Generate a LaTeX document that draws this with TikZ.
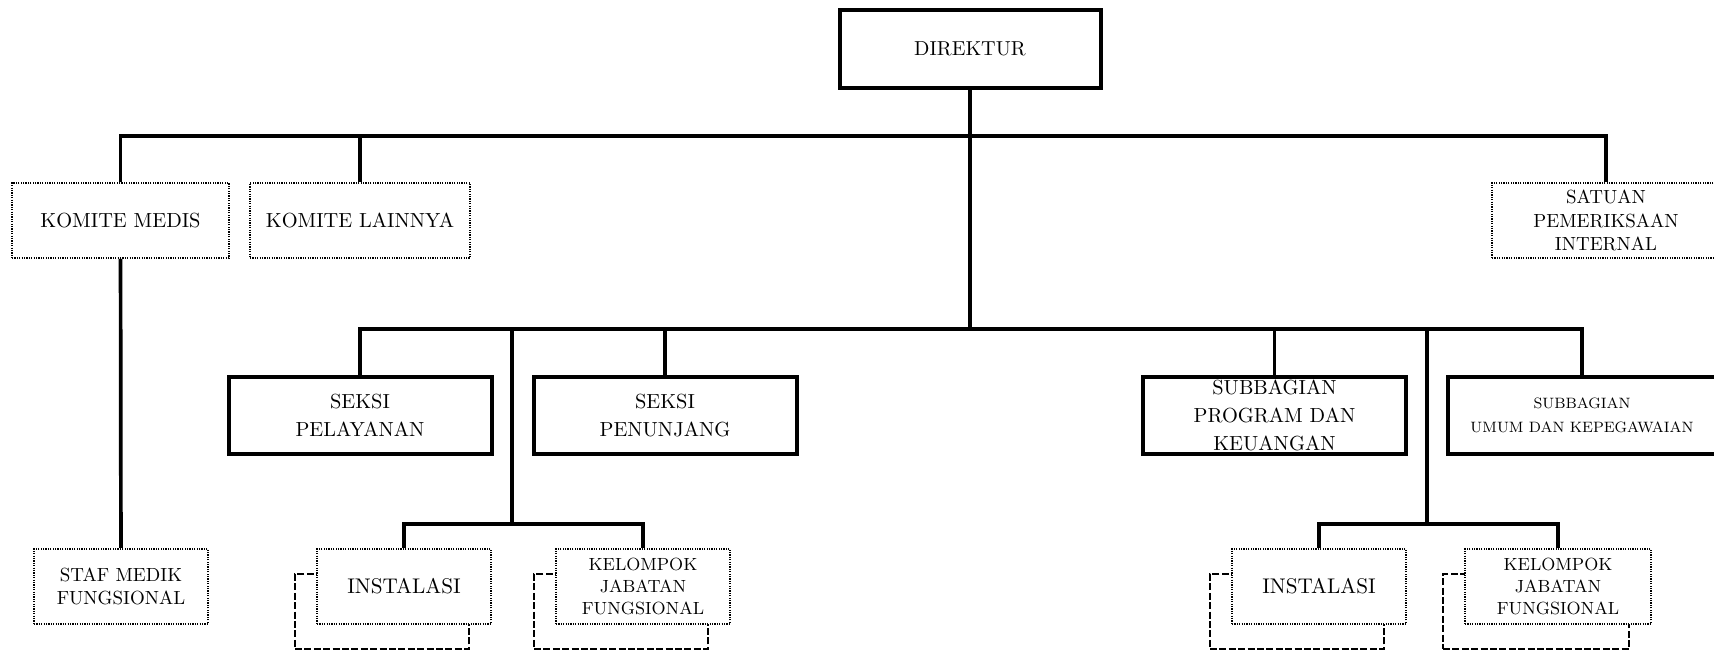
\documentclass[tikz,border=0pt]{standalone}

\tikzstyle{head box}=[draw,line width=2pt,fill=white,minimum width=130.5pt,minimum height=39pt,inner sep=0pt,align=center,font=\fontsize{10.1}{12}\selectfont]
\tikzstyle{unit box}=[draw,line width=2pt,fill=white,minimum width=131.5pt,minimum height=38.5pt,inner sep=0pt,align=center,font=\fontsize{10.2}{14}\selectfont]
\tikzstyle{staff box}=[draw,line width=1pt,dash pattern=on 0.6pt off 0.6pt,fill=white,minimum height=37.5pt,inner sep=0pt,align=center,font=\fontsize{10.2}{12}\selectfont]
\tikzstyle{group box}=[staff box,minimum width=87pt]
\tikzstyle{copy box}=[draw,line width=1pt,dash pattern=on 3.5pt off 1.2pt,minimum width=87pt,minimum height=37.5pt]
\tikzstyle{edge}=[draw,line width=1.85pt]

\begin{document}
\begin{tikzpicture}[x=0.5pt,y=-0.5pt]
    \useasboundingbox (0,0) rectangle (1714,651);

    % stacked copies behind the lower units
    \foreach \pos/\name in {{(382,611.5)/ins1s}, {(621,611.5)/kjf1s}, {(1297,611.5)/ins2s}}
    \node[copy box] (\name) at \pos {};
    \node[copy box,minimum width=93pt] (kjf2s) at (1536,611.5) {};

    \node[head box] (dir) at (970,49) {DIREKTUR};

    \node[staff box,minimum width=108.5pt] (kmed) at (120.5,220.5) {KOMITE MEDIS};
    \node[staff box,minimum width=110pt] (klain) at (360,220.5) {KOMITE LAINNYA};
    \node[staff box,minimum width=114pt,font=\fontsize{9.5}{11.8}\selectfont] (spi) at (1606,220.5) {SATUAN\\PEMERIKSAAN\\INTERNAL};

    \foreach \pos/\name/\txt in {{(360,415.5)/pel/SEKSI\\PELAYANAN}, {(665,415.5)/pen/SEKSI\\PENUNJANG},
        {(1274.5,415.5)/prog/SUBBAGIAN\\PROGRAM DAN\\KEUANGAN}}
    \node[unit box] (\name) at \pos {\txt};
    \node[unit box,minimum width=134pt,font=\fontsize{7.5}{11.7}\selectfont] (umum) at (1582,415.5) {SUBBAGIAN\\UMUM DAN KEPEGAWAIAN};

    \node[group box,font=\fontsize{9.5}{11.7}\selectfont] (staf) at (121,586.5) {STAF MEDIK\\FUNGSIONAL};
    \foreach \pos/\name in {{(404,586.5)/ins1}, {(1319,586.5)/ins2}}
    \node[group box,font=\fontsize{10.6}{12}\selectfont] (\name) at \pos {INSTALASI};
    \node[group box,font=\fontsize{8.8}{10.8}\selectfont] (kjf1) at (643,586.5) {KELOMPOK\\JABATAN\\FUNGSIONAL};
    \node[group box,minimum width=93pt,font=\fontsize{8.8}{10.8}\selectfont] (kjf2) at (1558,586.5) {KELOMPOK\\JABATAN\\FUNGSIONAL};

    % bars and branches
    \coordinate (top) at (970,136);
    \coordinate (mid) at (970,329);
    \coordinate (lmid) at (512,329);
    \coordinate (ljoin) at (512,524);
    \coordinate (rmid) at (1427,329);
    \coordinate (rjoin) at (1427,524);

    \path[edge] (dir) -- (mid);
    \path[edge] (kmed) |- (top) -| (spi);
    \path[edge] (pel) |- (mid) -| (umum);
    \path[edge] (ins1) |- (ljoin) -| (kjf1);
    \path[edge] (ins2) |- (rjoin) -| (kjf2);

    \foreach \source/\dest in {klain/top, pen/mid, prog/mid}
    \path[edge] (\source) |- (\dest);
    \foreach \source/\dest in {kmed/staf, lmid/ljoin, rmid/rjoin}
    \path[edge] (\source) -- (\dest);

\end{tikzpicture}
\end{document}
